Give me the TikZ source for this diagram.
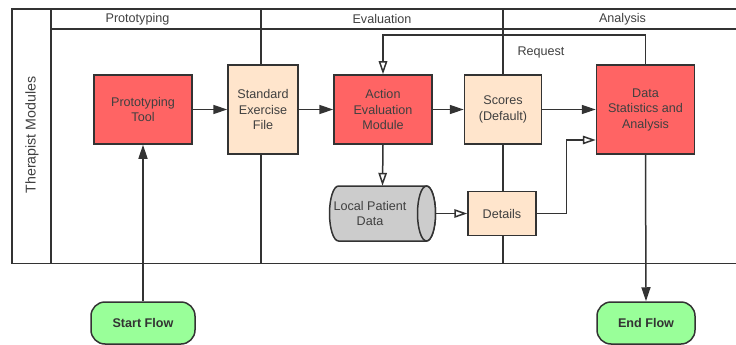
\documentclass[tikz,border=0pt]{standalone}
\usepackage{fontspec}
\setmainfont{Liberation Sans}
\usetikzlibrary{arrows.meta}
\definecolor{linec}{HTML}{333333}
\definecolor{txtc}{HTML}{404040}
\definecolor{redf}{HTML}{FF6464}
\definecolor{peachf}{HTML}{FFE5CC}
\definecolor{greenf}{HTML}{99FF99}
\definecolor{greyf}{HTML}{CCCCCC}
\newcommand\lblfont{\fontsize{12.6}{15.5}\selectfont}
\newcommand\sidefont{\fontsize{14.2}{17}\selectfont}
\tikzset{
  frame/.style={draw=linec, line width=1.5pt},
  box/.style={draw=linec, line width=1.5pt, align=center, inner sep=0pt, font=\lblfont, text=txtc},
  redbox/.style={box, fill=redf},
  peachbox/.style={box, fill=peachf},
  termbox/.style={box, fill=greenf, rounded corners=14pt, font=\lblfont\bfseries, text=linec},
  conn/.style={draw=linec, line width=1.5pt},
  fa/.style={conn, -{Triangle[length=14pt,width=9pt]}},
  oa/.style={conn, -{Triangle[open,length=13pt,width=8.5pt,fill=white]}},
  lbl/.style={font=\lblfont, text=txtc, inner sep=0pt}
}
\begin{document}
\begin{tikzpicture}[x=1pt,y=-1pt]
\useasboundingbox (0,0) rectangle (736,345);
% frame
\draw[frame] (737,9) -- (12,9) -- (12,263.5) -- (737,263.5);
\draw[frame] (51,9) -- (51,263.5);
\draw[frame] (51,29) -- (737,29);
\draw[frame] (261,9) -- (261,263.5);
\draw[frame] (503,9) -- (503,263.5);
\node[lbl] (hproto) at (137.5,19) {Prototyping};
\node[lbl] (heval) at (382,19) {Evaluation};
\node[lbl] (hana) at (622.5,19) {Analysis};
\node[lbl, font=\sidefont, rotate=90] (hther) at (32,135) {Therapist Modules};
% nodes
\node[redbox, minimum width=98pt, minimum height=69pt] (ptool) at (143,109.5) {Prototyping\\Tool};
\node[peachbox, minimum width=70pt, minimum height=89pt] (sef) at (263,109.5) {Standard\\Exercise\\File};
\node[redbox, minimum width=98pt, minimum height=69pt] (aem) at (383,109.5) {Action\\Evaluation\\Module};
\node[peachbox, minimum width=77pt, minimum height=69pt] (scores) at (503,109.5) {Scores\\(Default)};
\node[redbox, minimum width=98pt, minimum height=89pt] (dsa) at (645.5,109.5) {Data\\Statistics and\\Analysis};
\node[peachbox, minimum width=68pt, minimum height=44pt] (det) at (502,213.5) {Details};
\node[termbox, minimum width=104pt, minimum height=42pt] (startf) at (143,323) {Start Flow};
\node[termbox, minimum width=98pt, minimum height=42pt] (endf) at (646,323) {End Flow};
% cylinder
\node[minimum width=106pt, minimum height=55pt, inner sep=0pt] (lpd) at (382.5,213.5) {};
\draw[conn, fill=greyf] (338.5,186) -- (426.5,186)
   arc[start angle=-90, end angle=90, x radius=9, y radius=27.5]
   -- (338.5,241)
   arc[start angle=90, end angle=270, x radius=9, y radius=27.5] -- cycle;
\draw[conn, fill=greyf] (426.5,213.5) ellipse[x radius=9, y radius=27.5];
\node[lbl, align=center] (lpdt) at (370,213.5) {Local Patient\\Data};
% connectors
\draw[fa] (startf.north) -- (ptool.south);
\draw[fa] (ptool.east) -- (sef.west);
\draw[fa] (sef.east) -- (aem.west);
\draw[fa] (aem.east) -- (scores.west);
\draw[fa] (scores.east) -- (dsa.west);
\draw[oa] (aem.south) -- (lpd.north);
\draw[oa] (lpd.east) -- (det.west);
\coordinate (dj) at (566.5,140);
\draw[oa] (det.east) -| (dj) -- (dj -| dsa.west);
\coordinate (rq) at (645.5,35);
\draw[oa] (dsa.north) -- (dsa.north |- rq) -| (aem.north);
\node[lbl] (req) at (541,52) {Request};
\draw[fa] (dsa.south) -- (endf.north);
\end{tikzpicture}
\end{document}
